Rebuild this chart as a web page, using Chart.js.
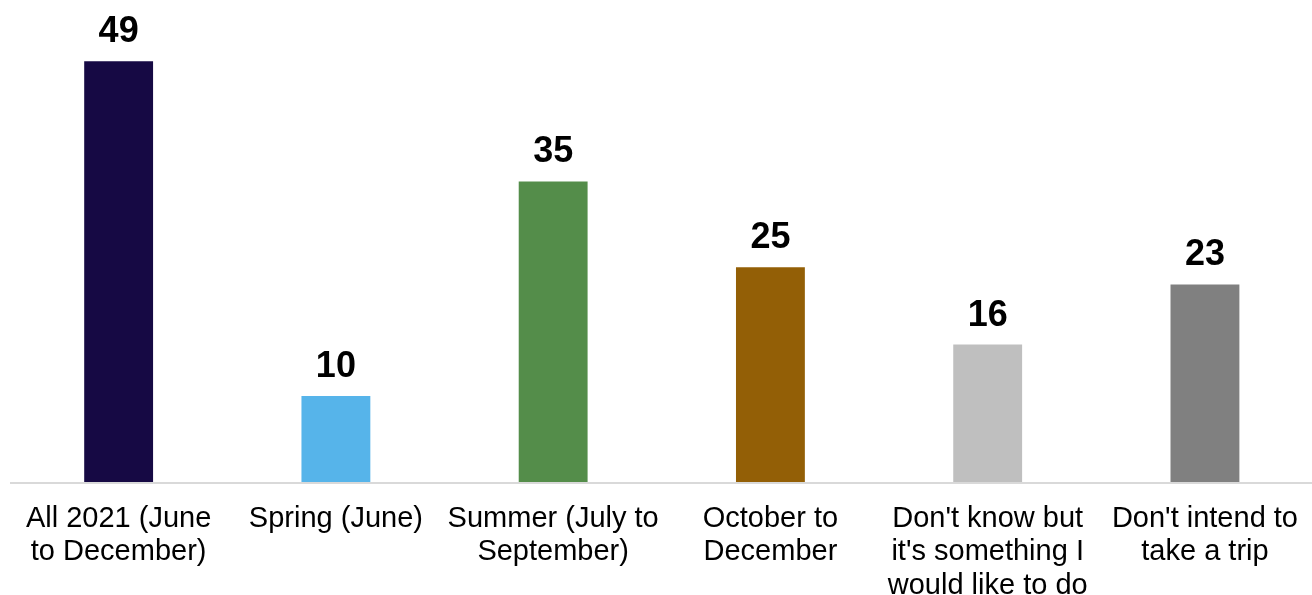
<!DOCTYPE html>
<html>
<head>
<meta charset="utf-8">
<script src="https://cdn.jsdelivr.net/npm/chart.js@4"></script>
<style>
  html, body { margin: 0; padding: 0; background: #fff; overflow: hidden; }
  canvas { display: block; }
</style>
</head>
<body>
<canvas id="chart" width="1318" height="595"></canvas>
<script>
const categories = [
  ["All 2021 (June", "to December)"],
  ["Spring (June)"],
  ["Summer (July to", "September)"],
  ["October to", "December"],
  ["Don't know but", "it's something I", "would like to do"],
  ["Don't intend to", "take a trip"]
];
const values = [49, 10, 35, 25, 16, 23];
const barColors = ['#160944', '#56b4ea', '#548d4a', '#935f06', '#bfbfbf', '#808080'];

// value labels above bars
const barLabels = {
  id: 'barLabels',
  afterDatasetsDraw(chart) {
    const ctx = chart.ctx;
    const meta = chart.getDatasetMeta(0);
    ctx.save();
    ctx.font = 'bold 36px "Liberation Sans", Arial, sans-serif';
    ctx.fillStyle = '#000';
    ctx.textAlign = 'center';
    ctx.textBaseline = 'alphabetic';
    meta.data.forEach((bar, i) => {
      ctx.fillText(values[i], bar.x, bar.y - 19);
    });
    ctx.restore();
  }
};

// category axis line running to the right edge
const baseLine = {
  id: 'baseLine',
  beforeDatasetsDraw(chart) {
    const ctx = chart.ctx;
    const y0 = chart.scales.y.getPixelForValue(0);
    ctx.save();
    ctx.strokeStyle = '#d9d9d9';
    ctx.lineWidth = 2;
    ctx.beginPath();
    ctx.moveTo(chart.chartArea.left, y0 + 1);
    ctx.lineTo(chart.width, y0 + 1);
    ctx.stroke();
    ctx.restore();
  }
};

const data = {
  labels: categories,
  datasets: [{
    data: values,
    backgroundColor: barColors,
    barPercentage: 0.317,
    categoryPercentage: 1
  }]
};

const config = {
  type: 'bar',
  data: data,
  options: {
    responsive: false,
    animation: false,
    devicePixelRatio: 1,
    layout: { padding: { top: 1, left: 10, right: 0, bottom: 0 } },
    plugins: {
      legend: { display: false },
      tooltip: { enabled: false }
    },
    scales: {
      x: {
        grid: { display: false, drawTicks: false },
        border: { display: false },
        ticks: {
          color: '#000',
          padding: 20,
          maxRotation: 0,
          autoSkip: false,
          font: { family: '"Liberation Sans", Arial, sans-serif', size: 29, lineHeight: 1.155 }
        },
        afterFit(scale) { scale.height = 113; }
      },
      y: {
        display: false,
        min: 0,
        max: 56
      }
    }
  },
  plugins: [barLabels, baseLine]
};

new Chart(document.getElementById('chart'), config);
</script>
</body>
</html>
